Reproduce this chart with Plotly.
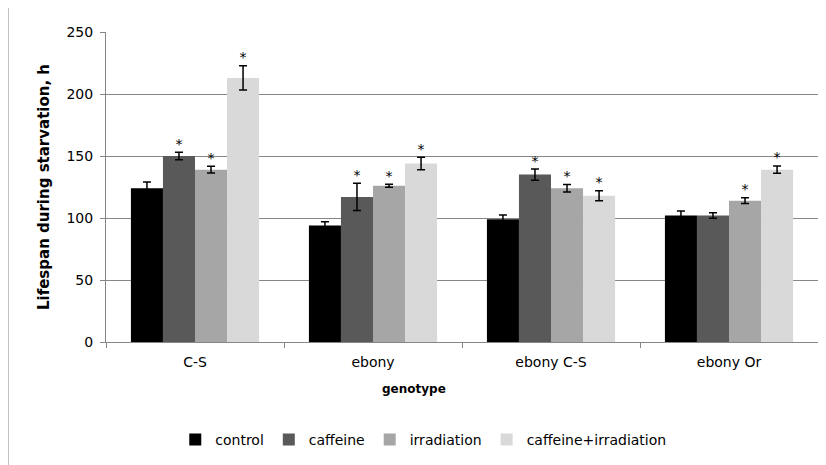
import plotly.graph_objects as go

genotypes = ["C-S", "ebony", "ebony C-S", "ebony Or"]
series_names = ["control", "caffeine", "irradiation", "caffeine+irradiation"]
control = [124, 94, 99, 102]
caffeine = [150, 117, 135, 102]
irradiation = [139, 126, 124, 114]
caffeine_irradiation = [213, 144, 118, 139]
control_err = [5, 3, 3.5, 3.7]
caffeine_err = [3, 11, 4.5, 2.3]
irradiation_err = [2.7, 1.2, 3, 2.3]
caffeine_irradiation_err = [9.8, 5, 4, 3]
control_sig = ["", "", "", ""]
caffeine_sig = ["*", "*", "*", ""]
irradiation_sig = ["*", "*", "*", "*"]
caffeine_irradiation_sig = ["*", "*", "*", "*"]

values = [control, caffeine, irradiation, caffeine_irradiation]
errors = [control_err, caffeine_err, irradiation_err, caffeine_irradiation_err]
sigs = [control_sig, caffeine_sig, irradiation_sig, caffeine_irradiation_sig]
colors = ["#000000", "#595959", "#a6a6a6", "#d9d9d9"]

FONT = "DejaVu Sans"
fig = go.Figure()
n = len(series_names)
for i, (name, v, e, c) in enumerate(zip(series_names, values, errors, colors)):
    fig.add_trace(go.Bar(
        name=name, x=genotypes, y=v, marker=dict(color=c, line=dict(width=0)),
        error_y=dict(type="data", array=e, visible=True, color="#000000", thickness=1.5, width=4),
        offsetgroup=str(i),
    ))

bar_frac = (1 - 0.28) / n
for i, (v, e, s) in enumerate(zip(values, errors, sigs)):
    xs = [k - 0.5 + 0.14 + bar_frac * (i + 0.5) for k in range(len(genotypes))]
    fig.add_trace(go.Scatter(
        x=xs, y=[a + b for a, b in zip(v, e)], text=s, mode="text",
        textposition="top center", textfont=dict(family=FONT, size=14, color="#000000"),
        xaxis="x2", showlegend=False, hoverinfo="skip", cliponaxis=False,
    ))

fig.update_layout(
    width=826, height=465,
    paper_bgcolor="white", plot_bgcolor="white",
    margin=dict(l=98, r=16, t=24, b=131, autoexpand=False),
    barmode="group", bargap=0.28, bargroupgap=0,
    font=dict(family=FONT, size=13, color="#000000"),
    xaxis=dict(
        type="category", showline=True, linecolor="#868686", linewidth=1,
        ticks="outside", tickson="boundaries", ticklen=5, tickcolor="#868686",
        showgrid=False, tickfont=dict(size=14), automargin=False, ticklabelstandoff=7,
    ),
    xaxis2=dict(overlaying="x", range=[-0.5, 3.5], visible=False, showgrid=False),
    yaxis=dict(
        range=[0, 250], dtick=50, showline=True, linecolor="#868686", linewidth=1,
        ticks="outside", ticklen=5, tickcolor="#868686",
        showgrid=True, gridcolor="#868686", gridwidth=1, zeroline=False,
        tickfont=dict(size=14), automargin=False, ticklabelstandoff=4,
        title=dict(text="<b>Lifespan during starvation, h</b>", font=dict(size=15), standoff=13),
    ),
    annotations=[dict(text="<b>genotype</b>", xref="paper", yref="paper", x=0.4326, y=-0.152,
                      xanchor="center", yanchor="middle", showarrow=False, font=dict(size=12))],
    legend=dict(orientation="h", x=0.4456, xanchor="center", y=-0.316, yanchor="middle",
                font=dict(size=14), itemwidth=30, traceorder="normal"),
    shapes=[dict(type="rect", xref="paper", yref="paper", x0=-0.1376, x1=1.05, y0=-0.45, y1=1.12,
                 line=dict(color="#868686", width=1), layer="below")],
)
fig.write_html("out.html")
